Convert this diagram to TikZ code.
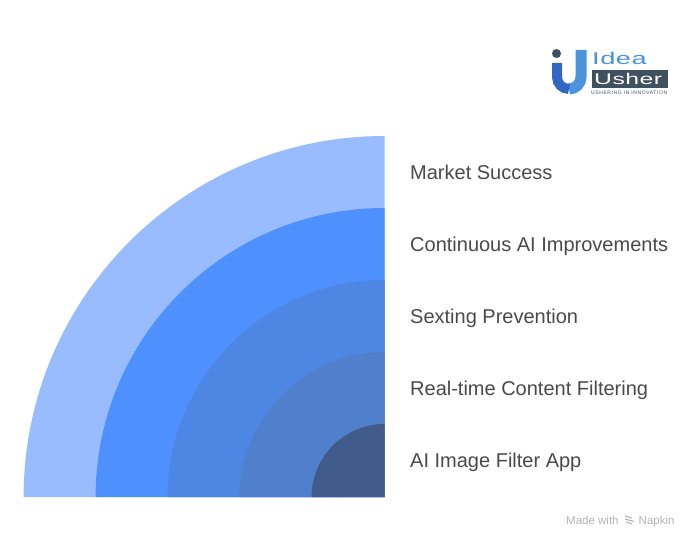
\documentclass[tikz,border=0pt]{standalone}
\usepackage{fontspec}
\setmainfont{Liberation Sans}
\newfontfamily\logofont[FakeStretch=1.6,LetterSpace=3]{Liberation Sans}
\newfontfamily\tagfont[LetterSpace=12]{Liberation Sans}
\definecolor{ringa}{HTML}{99BCFF}
\definecolor{ringb}{HTML}{4F90FF}
\definecolor{ringc}{HTML}{4E86E4}
\definecolor{ringd}{HTML}{5080CC}
\definecolor{ringe}{HTML}{415C8A}
\definecolor{labelc}{HTML}{4A4A4A}
\definecolor{logod}{HTML}{3F5060}
\definecolor{logol}{HTML}{4A94DC}
\definecolor{logom}{HTML}{3366C4}
\definecolor{footc}{HTML}{B4B4B4}
\tikzset{
  lab/.style={anchor=base west,inner sep=0pt,text=labelc,font=\fontsize{20}{24}\selectfont},
  foot/.style={anchor=base west,inner sep=0pt,text=footc,font=\fontsize{11.5}{13}\selectfont},
}
\newcommand{\qdisc}[2]{\fill[#2] (384.6,497) -- (384.6-#1,497) arc[start angle=180,end angle=270,radius=#1] -- cycle;}
\begin{document}
\begin{tikzpicture}[x=1pt,y=-1pt]
\useasboundingbox[fill=white] (0,0) rectangle (696,545);
\qdisc{361}{ringa}
\qdisc{289}{ringb}
\qdisc{217}{ringc}
\qdisc{145}{ringd}
\qdisc{73}{ringe}
\node[lab] (l1) at (410,179.5) {Market Success};
\node[lab] (l2) at (410,251.5) {Continuous AI Improvements};
\node[lab] (l3) at (410,323.5) {Sexting Prevention};
\node[lab] (l4) at (410,395.3) {Real-time Content Filtering};
\node[lab] (l5) at (410,467.3) {AI Image Filter App};
% logo
\fill[logod] (556.5,53.5) circle[radius=4.5];
\draw[logol,line width=11pt] (581,50) -- (581,77) arc[start angle=0,end angle=90,radius=12];
\draw[logom,line width=10pt] (557,63) -- (557,77) arc[start angle=180,end angle=90,radius=12];
\node[anchor=base west,inner sep=0pt,text=logol,font=\logofont\fontsize{17}{19}\selectfont] (logoidea) at (592,65) {Idea};
\fill[logod] (592,70) rectangle (668,88);
\node[anchor=base west,inner sep=0pt,text=white,font=\logofont\fontsize{15.5}{18}\selectfont] (logousher) at (594,85) {Usher};
\node[anchor=base west,inner sep=0pt,text=logod,font=\tagfont\fontsize{5}{6}\selectfont] (logotag) at (591,95) {USHERING IN INNOVATION};
% footer
\node[foot] (made) at (566,524) {Made with};
\draw[footc,line width=1.1pt] (625,516) -- (632,518) (625,519) -- (634,521.5) (626,522) -- (632,524);
\node[foot] (napkin) at (638.5,524) {Napkin};
\end{tikzpicture}
\end{document}
